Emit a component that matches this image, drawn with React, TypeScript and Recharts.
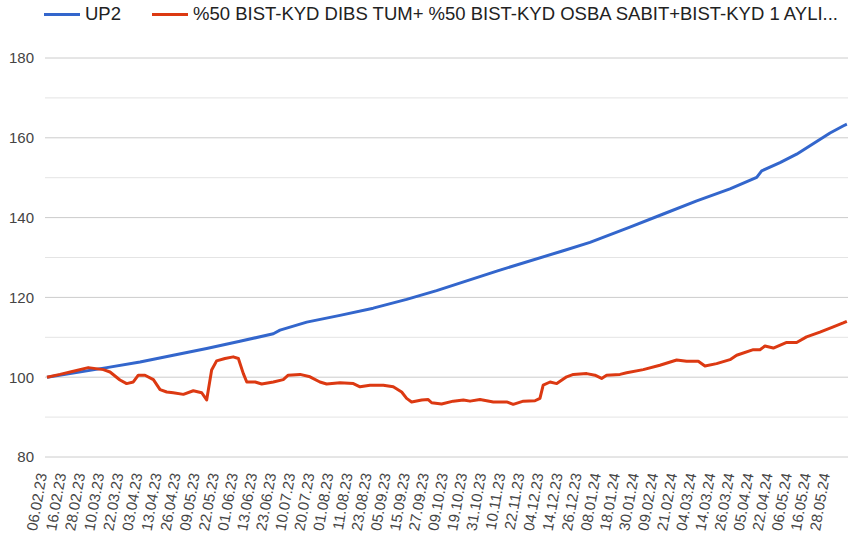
import React from 'react';
import { CartesianGrid, Line, LineChart, ReferenceLine, XAxis, YAxis } from 'recharts';

document.body.style.margin = '0';

const FONT = 'Arial, "Liberation Sans", sans-serif';
const BLUE = '#3366CC';
const RED = '#DC3912';

const TICK_LABELS = [
  '06.02.23', '16.02.23', '28.02.23', '10.03.23', '22.03.23', '03.04.23', '13.04.23',
  '26.04.23', '09.05.23', '22.05.23', '01.06.23', '13.06.23', '23.06.23', '10.07.23',
  '20.07.23', '01.08.23', '11.08.23', '23.08.23', '05.09.23', '15.09.23', '27.09.23',
  '09.10.23', '19.10.23', '31.10.23', '10.11.23', '22.11.23', '04.12.23', '14.12.23',
  '26.12.23', '08.01.24', '18.01.24', '30.01.24', '09.02.24', '21.02.24', '04.03.24',
  '14.03.24', '26.03.24', '05.04.24', '22.04.24', '06.05.24', '16.05.24', '28.05.24',
];

// positions are in tick-label steps (0 = 06.02.23)
const UP2_T = [
  0, 3.13, 4.87, 6.61, 8.36, 10.1, 11.85, 12.2, 13.6, 15.34, 17.08, 18.83, 20.4, 23.55,
  27.03, 28.43, 30.52, 32.27, 34.02, 35.76, 37.16, 37.42, 38.38, 39.25, 41.0, 41.78, 41.88,
];
const UP2_V = [
  100, 102.4, 103.8, 105.5, 107.2, 109.0, 110.9, 111.8, 113.8, 115.5, 117.3, 119.5, 121.7, 126.6,
  131.7, 133.8, 137.6, 140.9, 144.2, 147.2, 150.1, 151.7, 153.8, 155.9, 161.2, 163.2, 163.4,
];

const BENCH_T = [
  0, 0.68, 1.38, 2.16, 2.95, 3.3, 3.82, 4.17, 4.52, 4.78, 5.13, 5.57, 5.92, 6.27, 6.61, 7.14,
  7.66, 8.1, 8.36, 8.62, 8.88, 9.32, 9.75, 10.02, 10.28, 10.46, 10.9, 11.24, 11.85, 12.37, 12.63,
  13.25, 13.77, 14.29, 14.64, 15.34, 16.04, 16.39, 16.91, 17.61, 18.13, 18.57, 18.83, 19.09,
  19.62, 19.96, 20.14, 20.66, 21.27, 21.8, 22.15, 22.67, 23.02, 23.37, 24.07, 24.41, 24.94,
  25.55, 25.81, 25.98, 26.34, 26.69, 27.21, 27.56, 28.26, 28.69, 29.04, 29.3, 30.0, 30.35,
  31.22, 32.09, 32.97, 33.49, 34.1, 34.45, 35.06, 35.76, 36.11, 36.98, 37.33, 37.59, 38.03,
  38.73, 39.25, 39.77, 40.47, 41.17, 41.69, 41.88,
];
const BENCH_V = [
  100, 100.7, 101.5, 102.4, 101.9, 101.3, 99.3, 98.4, 98.8, 100.5, 100.5, 99.4, 96.9, 96.3, 96.1, 95.7,
  96.6, 96.1, 94.3, 101.8, 104.1, 104.7, 105.1, 104.7, 100.9, 98.8, 98.8, 98.3, 98.8, 99.4, 100.5,
  100.7, 100.1, 98.8, 98.3, 98.6, 98.4, 97.6, 98.0, 98.0, 97.6, 96.3, 94.7, 93.8,
  94.3, 94.4, 93.6, 93.3, 94.0, 94.3, 94.0, 94.4, 94.1, 93.8, 93.8, 93.2, 94.0,
  94.1, 94.7, 98.0, 98.8, 98.4, 100.1, 100.7, 100.9, 100.5, 99.7, 100.5, 100.7, 101.1,
  101.9, 103.0, 104.3, 104.0, 104.0, 102.8, 103.4, 104.4, 105.5, 106.9, 106.9, 107.8, 107.3,
  108.7, 108.7, 110.1, 111.3, 112.6, 113.6, 114.0,
];

const Y_TICKS = [80, 100, 120, 140, 160, 180];
const Y_MINOR = [90, 110, 130, 150, 170];

const SERIES = [
  { key: 'up2', name: 'UP2', color: BLUE, t: UP2_T, v: UP2_V },
  {
    key: 'bench',
    name: '%50 BIST-KYD DIBS TUM+ %50 BIST-KYD OSBA SABIT+BIST-KYD 1 AYLI...',
    color: RED,
    t: BENCH_T,
    v: BENCH_V,
  },
];

const DateTick = ({ x, y, payload }: any) => {
  const ay = y + 17;
  return (
    <text
      x={x}
      y={ay}
      transform={`rotate(-80 ${x} ${ay})`}
      textAnchor="end"
      fontSize={15}
      fontFamily={FONT}
      fill="#444"
    >
      {TICK_LABELS[payload.value]}
    </text>
  );
};

export default function App() {
  return (
    <div style={{ position: 'relative', width: 862, height: 535, background: '#fff' }}>
      <div
        style={{
          position: 'absolute',
          top: 3,
          left: 44,
          display: 'flex',
          alignItems: 'center',
          fontFamily: FONT,
          fontSize: 18.5,
          color: '#222',
          whiteSpace: 'nowrap',
          zIndex: 2,
        }}
      >
        {SERIES.map((s, i) => (
          <div key={s.key} style={{ display: 'flex', alignItems: 'center', marginRight: i === 0 ? 31 : 0 }}>
            <div style={{ width: 36, height: 3, background: s.color, marginRight: 5 }} />
            <span>{s.name}</span>
          </div>
        ))}
      </div>
      <LineChart width={862} height={535} margin={{ top: 58, right: 14, bottom: 0, left: 0 }}>
        <CartesianGrid vertical={false} stroke="#cccccc" />
        {Y_MINOR.map((v) => (
          <ReferenceLine key={v} y={v} stroke="#e4e4e4" strokeWidth={1} ifOverflow="extendDomain" />
        ))}
        <XAxis
          dataKey="t"
          type="number"
          domain={[-0.105, 41.94]}
          allowDataOverflow
          ticks={TICK_LABELS.map((_, i) => i)}
          interval={0}
          tick={<DateTick />}
          tickLine={false}
          axisLine={false}
          tickSize={0}
          tickMargin={0}
          height={78}
        />
        <YAxis
          type="number"
          domain={[80, 180]}
          ticks={Y_TICKS}
          allowDataOverflow
          width={45}
          tickLine={false}
          axisLine={false}
          tickSize={0}
          tickMargin={11}
          tick={{ fontSize: 15, fill: '#444', fontFamily: FONT }}
        />
        {SERIES.map((s) => (
          <Line
            key={s.key}
            data={s.t.map((t, i) => ({ t, v: s.v[i] }))}
            dataKey="v"
            name={s.name}
            type="linear"
            stroke={s.color}
            strokeWidth={3}
            strokeLinejoin="round"
            dot={false}
            activeDot={false}
            isAnimationActive={false}
          />
        ))}
      </LineChart>
    </div>
  );
}
